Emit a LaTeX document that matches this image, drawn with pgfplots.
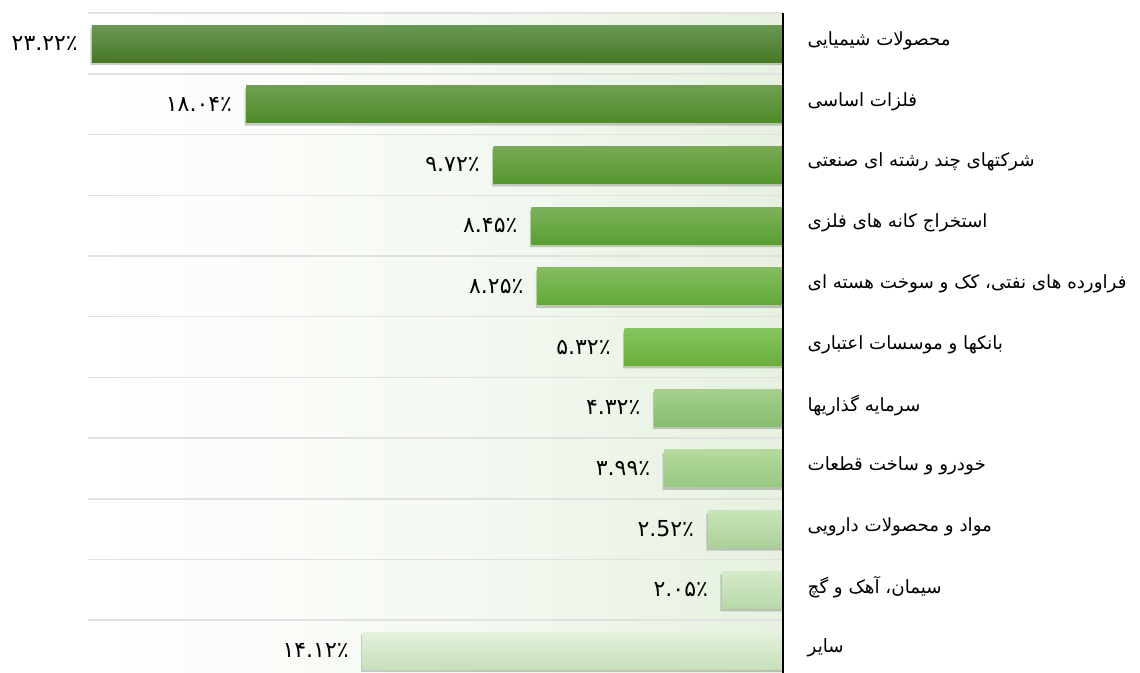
\documentclass[border=0pt]{standalone}
\usepackage{pgfplots}
\pgfplotsset{compat=1.18}
\usepackage{fontspec}
\TeXXeTstate=1
\newfontfamily\arabicfont[Script=Arabic]{DejaVu Sans}
\newfontfamily\numfont{DejaVu Sans}
\definecolor{bgR}{HTML}{E6F1E0}
\definecolor{sep}{HTML}{E2E0E0}
\definecolor{ta}{HTML}{6A9854}\definecolor{ba}{HTML}{477826}
\definecolor{tb}{HTML}{6FA04F}\definecolor{bb}{HTML}{4E8A2A}
\definecolor{tc}{HTML}{78AA55}\definecolor{bc}{HTML}{56962E}
\definecolor{td}{HTML}{7DB25A}\definecolor{bd}{HTML}{5A9E32}
\definecolor{te}{HTML}{84BC60}\definecolor{be}{HTML}{62A838}
\definecolor{tf}{HTML}{86C45E}\definecolor{bf}{HTML}{6AAE3C}
\definecolor{tg}{HTML}{A4D08C}\definecolor{bg}{HTML}{88BC70}
\definecolor{th}{HTML}{B4DA9C}\definecolor{bh}{HTML}{98C884}
\definecolor{ti}{HTML}{C8E4B8}\definecolor{bi}{HTML}{ACD09A}
\definecolor{tj}{HTML}{D4EAC8}\definecolor{bj}{HTML}{B8D8AA}
\definecolor{tk}{HTML}{E4F1DC}\definecolor{bk}{HTML}{C8E0BC}
\begin{document}
\begin{tikzpicture}
\begin{axis}[
  at={(0,0)}, anchor=south west,
  scale only axis, width=521.25pt, height=504.75pt,
  xbar, bar shift=0pt, bar width=0.61,
  x dir=reverse, y dir=reverse,
  xmin=0, xmax=23.35, ymin=-0.717, ymax=10.37,
  axis line style={draw=none},
  xtick=\empty,
  ytick={0,...,10},
  yticklabels={
    {\beginR محصولات شیمیایی\endR},
    {\beginR فلزات اساسی\endR},
    {\beginR شرکتهای چند رشته ای صنعتی\endR},
    {\beginR استخراج کانه های فلزی\endR},
    {\beginR فراورده های نفتی، کک و سوخت هسته ای\endR},
    {\beginR بانکها و موسسات اعتباری\endR},
    {\beginR سرمایه گذاریها\endR},
    {\beginR خودرو و ساخت قطعات\endR},
    {\beginR مواد و محصولات دارویی\endR},
    {\beginR سیمان، آهک و گچ\endR},
    {\beginR سایر\endR}},
  yticklabel pos=right,
  major tick length=0pt,
  yticklabel style={anchor=west, xshift=15pt, yshift=2pt, font=\arabicfont\fontsize{13.7}{15}\selectfont, text=black},
  every node near coord/.append style={anchor=east, xshift=-7pt, font=\numfont\fontsize{16.5}{18}\selectfont, text=black},
  clip=false,
]
\fill[left color=white, right color=bgR, middle color=white!60!bgR] (axis cs:23.35,-0.5) rectangle (axis cs:0,10.37);
\pgfplotsinvokeforeach{-0.5,0.5,...,9.5}{
  \draw[sep, line width=1.1pt] (axis cs:23.35,#1) -- (axis cs:0,#1);
}
% shadows
\addplot[fill=black, draw=none, opacity=0.2, bar shift=-2.2pt] coordinates {(23.27,0) (18.09,1) (9.77,2) (8.50,3) (8.30,4) (5.37,5) (4.37,6) (4.04,7) (2.57,8) (2.10,9) (14.17,10)};
% bars
\addplot[draw=none, top color=ta, bottom color=ba, nodes near coords={۲۳.۲۲٪}] coordinates {(23.22,0)};
\addplot[draw=none, top color=tb, bottom color=bb, nodes near coords={۱۸.۰۴٪}] coordinates {(18.04,1)};
\addplot[draw=none, top color=tc, bottom color=bc, nodes near coords={۹.۷۲٪}] coordinates {(9.72,2)};
\addplot[draw=none, top color=td, bottom color=bd, nodes near coords={۸.۴۵٪}] coordinates {(8.45,3)};
\addplot[draw=none, top color=te, bottom color=be, nodes near coords={۸.۲۵٪}] coordinates {(8.25,4)};
\addplot[draw=none, top color=tf, bottom color=bf, nodes near coords={۵.۳۲٪}] coordinates {(5.32,5)};
\addplot[draw=none, top color=tg, bottom color=bg, nodes near coords={۴.۳۲٪}] coordinates {(4.32,6)};
\addplot[draw=none, top color=th, bottom color=bh, nodes near coords={۳.۹۹٪}] coordinates {(3.99,7)};
\addplot[draw=none, top color=ti, bottom color=bi, nodes near coords={۲.5۲٪}] coordinates {(2.52,8)};
\addplot[draw=none, top color=tj, bottom color=bj, nodes near coords={۲.۰۵٪}] coordinates {(2.05,9)};
\addplot[draw=none, top color=tk, bottom color=bk, nodes near coords={۱۴.۱۲٪}] coordinates {(14.12,10)};
\draw[black, line width=1.8pt] (axis cs:0,-0.5) -- (axis cs:0,10.37);
\end{axis}
\pgfresetboundingbox
\path[use as bounding box] (-66pt,0) rectangle (789pt,504.75pt);
\end{tikzpicture}
\end{document}
